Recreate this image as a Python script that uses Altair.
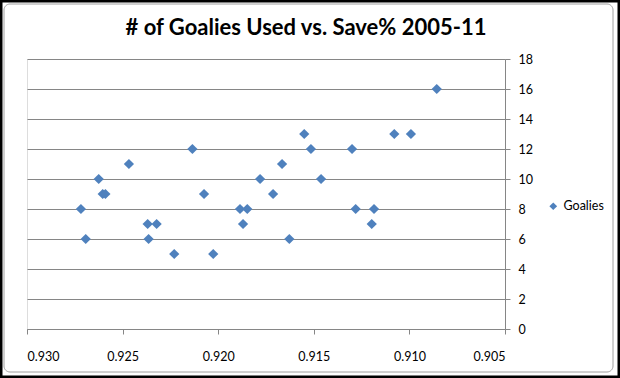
import altair as alt
import pandas as pd

save_pct = [0.92135, 0.92467, 0.92625, 0.92604, 0.92590, 0.92074, 0.92718,
            0.92369, 0.92322, 0.92693, 0.92364, 0.92230, 0.92026,
            0.91886, 0.91848, 0.91870, 0.91781, 0.91713, 0.91666, 0.91628,
            0.91550, 0.91515, 0.91462, 0.91300, 0.91281, 0.91197, 0.91185,
            0.91079, 0.90992, 0.90857]
goalies = [12, 11, 10, 9, 9, 9, 8,
           7, 7, 6, 6, 5, 5,
           8, 8, 7, 10, 9, 11, 6,
           13, 12, 10, 12, 8, 7, 8,
           13, 13, 16]
series = ["Goalies"] * len(goalies)
x_ticks = [0.930, 0.925, 0.920, 0.915, 0.910, 0.905]
y_ticks = [0, 2, 4, 6, 8, 10, 12, 14, 16, 18]
title_text = "# of Goalies Used vs. Save% 2005-11"

df = pd.DataFrame({"save": save_pct, "goalies": goalies, "series": series})

FONT = "Lato"
W, H = 478, 270

points = alt.Chart(df).mark_point(shape="diamond", filled=True, size=105, opacity=1).encode(
    x=alt.X("save:Q",
            scale=alt.Scale(domain=[0.905, 0.930], reverse=True, nice=False, zero=False),
            axis=alt.Axis(values=x_ticks, format=".3f", title=None, grid=False,
                          domainColor="#868686", tickColor="#868686", tickSize=5,
                          labelPadding=16, labelFontSize=12.5, labelColor="#000000",
                          labelFont=FONT)),
    y=alt.Y("goalies:Q",
            scale=alt.Scale(domain=[0, 18], nice=False),
            axis=alt.Axis(orient="right", values=y_ticks, title=None, grid=True,
                          gridColor="#868686", domainColor="#868686", tickColor="#868686",
                          tickSize=5, labelPadding=8, labelFontSize=12.5,
                          labelColor="#000000", labelFont=FONT)),
    color=alt.Color("series:N",
                    scale=alt.Scale(range=["#4F81BD"]),
                    legend=alt.Legend(title=None, orient="none", legendX=520, legendY=141,
                                      symbolType="diamond", symbolSize=60,
                                      labelFontSize=12.5, labelFont=FONT,
                                      labelColor="#000000", symbolStrokeWidth=0)),
)

title = alt.Chart(pd.DataFrame({"t": [title_text]})).mark_text(
    font=FONT, fontSize=22, fontWeight="bold", color="#000000",
    align="center", baseline="middle"
).encode(text="t:N", x=alt.value(279), y=alt.value(-31))

frame = alt.Chart(pd.DataFrame({"a": [0]})).mark_rect(
    fill=None, stroke="black", strokeWidth=3
).encode(
    x=alt.value(-26), x2=alt.value(592), y=alt.value(-58), y2=alt.value(318)
)
inner = alt.Chart(pd.DataFrame({"a": [0]})).mark_rect(
    fill=None, stroke="#a0a0a0", strokeWidth=1, cornerRadius=6
).encode(
    x=alt.value(-23), x2=alt.value(586), y=alt.value(-55), y2=alt.value(313)
)

chart = alt.layer(points, title, inner, frame).properties(
    width=W, height=H,
    autosize=alt.AutoSizeParams(type="none"),
    padding={"left": 27, "top": 59, "right": 115, "bottom": 49},
).configure_view(stroke=None).configure(background="white")

chart.save("out.html", embed_options={"renderer": "svg", "actions": False})
